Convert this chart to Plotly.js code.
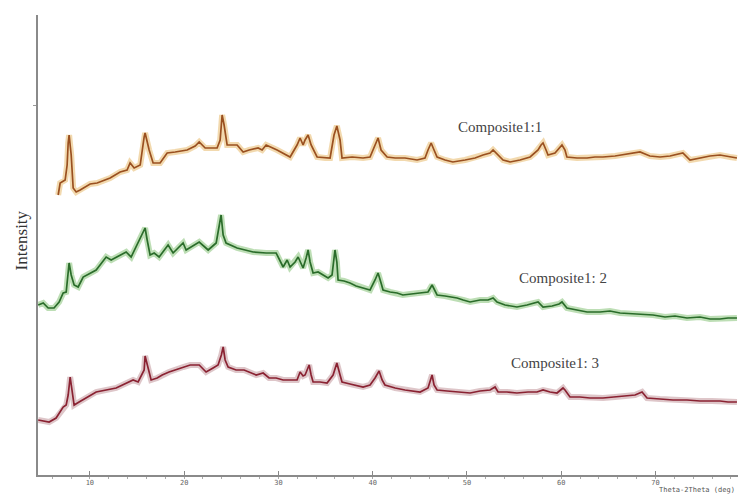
<!DOCTYPE html>
<html>
<head>
<meta charset="utf-8">
<script src="https://cdn.plot.ly/plotly-3.0.1.min.js"></script>
<style>html,body{margin:0;padding:0;background:#fff;}#chart{width:738px;height:495px;}</style>
</head>
<body>
<div id="chart"></div>
<script>
// 2-theta (deg) and intensity (arbitrary, offset stacked) for each composite
const theta1 = [6.64,6.85,7.38,7.59,7.7,7.8,8.02,8.23,8.55,8.97,10.03,10.77,12.15,13.21,13.95,14.27,14.7,15.34,15.76,15.86,16.29,16.71,17.45,18.2,19.05,20.32,21.17,21.6,22.23,22.97,23.5,23.82,24.03,24.24,24.56,25.62,26.26,26.9,27.85,28.27,28.7,29.86,30.5,31.24,31.98,32.3,32.62,32.83,33.15,33.47,34.1,34.95,35.48,35.9,36.2,36.54,36.75,37.82,38.98,39.72,40.25,40.57,40.89,41.53,42.38,43.43,44.71,45.55,45.87,46.2,46.51,46.83,47.68,48.5,49.8,50.86,51.7,52.45,52.77,53.3,53.83,54.57,55.63,56.7,57.22,57.54,57.86,58.07,58.39,58.6,59.34,59.77,60.08,60.4,60.6,61.67,62.74,63.58,64.43,65.7,67.08,68.36,69.4,70.48,71.54,72.9,73.66,74.72,75.78,76.84,77.9,78.64];
const int1 = [280,292,295,310,332,340,320,287,283,285,291,292,297,303,305,312,307,310,338,342,325,312,312,322,323,325,329,333,327,327,327,335,360,350,330,330,323,325,327,325,330,325,322,318,330,337,330,335,340,330,318,317,317,340,349,335,317,318,317,318,330,337,325,318,317,317,315,317,325,332,325,318,315,313,315,317,320,322,325,320,315,313,315,318,322,325,330,332,325,320,322,327,330,325,318,317,317,318,318,319,321,323,319,318,319,322,315,317,319,320,318,317];

const theta2 = [4.52,5.05,5.58,6.2,6.74,7.17,7.49,7.8,8.02,8.33,8.76,9.29,10.67,11.73,12.26,13.85,14.38,15.76,15.86,16.08,16.39,16.82,17.35,18.3,18.83,19.89,20.21,21.6,22.55,23.4,23.92,24.14,24.45,25.62,27.32,28.7,29.76,30.5,30.93,31.24,31.77,32.09,32.62,32.94,33.15,33.36,33.68,34.21,34.74,35.27,35.69,36.0,36.2,36.33,36.96,37.6,38.24,38.98,39.72,40.25,40.57,40.89,41.1,41.85,42.59,43.2,43.97,45.03,45.87,46.3,46.62,46.83,47.68,48.95,49.6,50.33,51.39,52.24,52.77,53.19,54.04,55.3,56.37,57.22,57.54,58.07,59.03,59.77,60.08,60.6,61.67,62.74,64.11,65.17,66.24,67.83,68.89,69.74,71.01,72.07,73.34,74.72,75.78,76.84,77.69,78.64];
const int2 = [170,172,167,167,173,182,183,212,200,190,188,198,205,218,215,223,218,245,247,235,220,222,218,230,222,232,225,233,225,232,260,240,232,227,223,222,222,208,215,208,213,218,207,217,225,213,202,203,200,197,200,225,213,195,194,192,189,187,185,195,202,192,185,183,182,180,181,182,183,190,183,180,179,177,175,173,175,175,177,173,170,168,170,172,173,168,169,171,173,167,165,163,163,164,162,161,161,160,158,159,157,158,156,156,157,157];

const theta3 = [4.52,5.68,6.42,7.17,7.49,7.7,7.91,8.12,8.33,8.86,10.67,12.79,14.59,15.12,15.76,15.86,16.08,16.5,17.14,17.67,18.4,19.89,20.64,21.6,22.33,23.07,23.6,23.95,24.14,24.35,24.67,25.51,26.36,27.64,28.38,29.01,29.76,30.5,31.24,31.98,32.3,32.62,32.83,33.26,33.47,33.68,34.42,35.16,35.8,36.2,36.54,36.75,37.6,38.35,38.98,39.72,40.25,40.68,41.0,41.3,42.38,43.43,44.28,45.03,45.87,46.3,46.51,46.83,47.89,48.95,50.33,51.39,52.45,52.98,53.3,54.25,55.3,56.48,57.43,58.07,58.81,59.55,60.19,60.4,60.93,61.99,63.04,64.43,65.7,66.77,67.83,68.57,69.1,70.48,71.86,73.34,74.72,75.99,76.84,77.69,78.64];
const int3 = [55,53,57,68,70,80,98,85,70,73,83,87,95,93,105,119,110,95,97,100,103,108,110,110,103,107,110,120,128,115,108,105,105,100,102,97,97,95,95,95,103,99,100,110,100,93,93,92,100,112,100,93,91,89,88,90,97,104,95,90,87,85,84,83,87,100,90,85,84,83,82,84,85,88,83,83,82,83,83,85,83,82,87,85,78,78,77,77,78,79,80,83,77,76,75,75,74,74,74,73,73];

const seriesNames = ['Composite1:1', 'Composite1: 2', 'Composite1: 3'];
const xTickVals = [10,20,30,40,50,60,70];
const xTickText = ['10','20','30','40','50','60','70'];

const styles = [
  {halo: 'rgba(240,210,160,0.85)', core: '#9a5020'},
  {halo: 'rgba(178,216,168,0.85)', core: '#2a6c2a'},
  {halo: 'rgba(216,188,192,0.85)', core: '#8a2232'}
];
const xs = [theta1, theta2, theta3];
const ys = [int1, int2, int3];

const traces = [];
for (let i = 0; i < 3; i++) {
  traces.push({x: xs[i], y: ys[i], mode: 'lines', type: 'scatter', name: seriesNames[i] + ' halo',
    line: {color: styles[i].halo, width: 6}, hoverinfo: 'skip', showlegend: false});
  traces.push({x: xs[i], y: ys[i], mode: 'lines', type: 'scatter', name: seriesNames[i],
    line: {color: styles[i].core, width: 1.7}, showlegend: false});
}

const labelPos = [[53.5, 348], [60.2, 197], [59.3, 112]];
const annotations = seriesNames.map((n, i) => ({
  x: labelPos[i][0], y: labelPos[i][1], xref: 'x', yref: 'y', text: n, showarrow: false,
  font: {family: 'Liberation Serif, Times New Roman, serif', size: 15, color: '#444'}
}));
annotations.push({xref: 'paper', yref: 'paper', x: 0, y: 0.51, xshift: -17, text: 'Intensity',
  textangle: -90, showarrow: false, xanchor: 'center', yanchor: 'middle',
  font: {family: 'Liberation Serif, Times New Roman, serif', size: 17, color: '#333'}});
annotations.push({xref: 'paper', yref: 'paper', x: 0.884, y: 0, yshift: -15, xanchor: 'left', yanchor: 'middle',
  text: 'Theta-2Theta (deg)', showarrow: false,
  font: {family: 'DejaVu Sans Mono, monospace', size: 7, color: '#555'}});

const layout = {
  width: 738, height: 495,
  margin: {l: 38, r: 0, t: 15, b: 20},
  paper_bgcolor: '#fff', plot_bgcolor: '#fff',
  showlegend: false,
  xaxis: {
    range: [4.5, 78.75], showgrid: false, zeroline: false,
    showline: true, linecolor: '#8a8a8a', linewidth: 2,
    tickmode: 'array', tickvals: xTickVals, ticktext: xTickText,
    ticks: 'inside', ticklen: 4, tickcolor: '#888', tickwidth: 1,
    tickfont: {family: 'DejaVu Sans Mono, monospace', size: 7, color: '#666'},
    minor: {dtick: 2, ticks: 'outside', ticklen: 2, tickcolor: '#aaa'}
  },
  yaxis: {
    range: [0, 460], showgrid: false, zeroline: false,
    showline: true, linecolor: '#8a8a8a', linewidth: 2,
    tickmode: 'array', tickvals: [370], ticktext: [''],
    ticks: 'outside', ticklen: 3, tickcolor: '#999'
  },
  annotations: annotations
};

Plotly.newPlot('chart', traces, layout, {displayModeBar: false, staticPlot: true});
</script>
</body>
</html>
